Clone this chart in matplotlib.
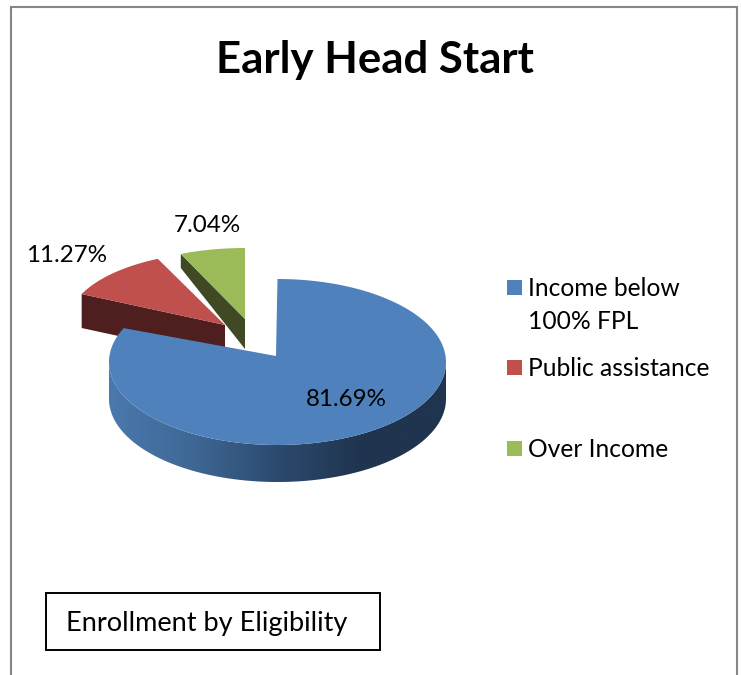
#!/usr/bin/env python3
"""Early Head Start enrollment shown as an exploded pseudo-3D pie."""

import numpy as np
from matplotlib import pyplot as plt
from matplotlib.colors import LinearSegmentedColormap
from matplotlib.patches import Polygon, Rectangle

CATEGORIES = ["Income below\n100% FPL", "Public assistance", "Over Income"]
SHARES = [81.69, 11.27, 7.04]
SHARE_LABELS = ["81.69%", "11.27%", "7.04%"]
TITLE = "Early Head Start"
NOTE = "Enrollment by Eligibility"

TOP_COLORS = ["#4f81bd", "#c0504d", "#9bbb59"]
SIDE_COLORS = [None, "#4f1f1f", "#3f4a24"]
FONT = "Lato"


def rim(cx, cy, rx, ry, start, end):
    """Points on the ellipse rim, angles in degrees clockwise from 12 o'clock"""
    a = np.radians(np.linspace(start, end, 200))
    return np.column_stack((cx + rx * np.sin(a), cy - ry * np.cos(a)))


fig = plt.figure(figsize=(7.42, 6.75), dpi=100)
ax = fig.add_axes([0, 0, 1, 1])

# slice angles come from the shares
edges = np.concatenate(([0], np.cumsum(SHARES) / np.sum(SHARES) * 360))

# green slice, pulled out
rim_g = rim(245, 310, 150, 62, edges[2], edges[3])
apex_g = np.array([245, 319])
ax.add_patch(Polygon([rim_g[0], apex_g, apex_g + [0, 30], rim_g[0] + [0, 14]], color=SIDE_COLORS[2], lw=0))
ax.add_patch(Polygon(np.vstack((apex_g, rim_g)), color=TOP_COLORS[2], lw=0))

# red slice, pulled out
rim_r = rim(225, 323, 157, 71, edges[1], edges[2])
apex_r = np.array([225, 325])
ax.add_patch(Polygon([rim_r[0], apex_r, apex_r + [0, 34], rim_r[0] + [0, 34]], color=SIDE_COLORS[1], lw=0))
ax.add_patch(Polygon(np.vstack((apex_r, rim_r)), color=TOP_COLORS[1], lw=0))

# blue slice side wall with a horizontal gradient
depth = 37
front = rim(277.5, 362, 168.5, 83, 90, 270)
wall = Polygon(np.vstack((front, front[::-1] + [0, depth])), color="none", lw=0)
ax.add_patch(wall)
cmap = LinearSegmentedColormap.from_list("wall", ["#4a79ae", "#3f6795", "#2c4a6e", "#1f344f", "#1f344f"])
grad = ax.imshow(np.linspace(0, 1, 256)[None, :], cmap=cmap, extent=(109, 446, 500, 340), aspect="auto")
grad.set_clip_path(wall)

# blue slice top
rim_b = rim(277.5, 362, 168.5, 83, edges[0], edges[1])
ax.add_patch(Polygon(np.vstack(([276, 356], rim_b)), color=TOP_COLORS[0], lw=0))

# value labels
for text, x, y in zip(SHARE_LABELS, [346, 67, 207], [400, 256, 226]):
    ax.text(x, y, text, family=FONT, fontsize=17.4, color="black", ha="center", va="center")

ax.text(374.5, 60, TITLE, family=FONT, fontsize=31.5, weight="bold", color="black", ha="center", va="center")

# legend
for label, color, y in zip(CATEGORIES, TOP_COLORS, [287, 367, 448]):
    ax.add_patch(Rectangle((507, y - 7), 15, 15, color=color, lw=0))
    ax.text(528, y - 10, label, family=FONT, fontsize=17.7, color="black", ha="left", va="top", linespacing=1.55)

ax.add_patch(Rectangle((45.5, 592.5), 334, 57, fill=False, edgecolor="black", lw=1.4))
ax.text(66, 624, NOTE, family=FONT, fontsize=19.5, color="black", ha="left", va="center")

# outer frame, open at the bottom where the picture is cut
ax.plot([11, 11, 737, 737], [675, 7, 7, 675], color="#868686", lw=1.5, solid_joinstyle="miter")

ax.set_xlim(0, 742)
ax.set_ylim(675, 0)
ax.axis("off")

fig.savefig("out.png", dpi=100)
